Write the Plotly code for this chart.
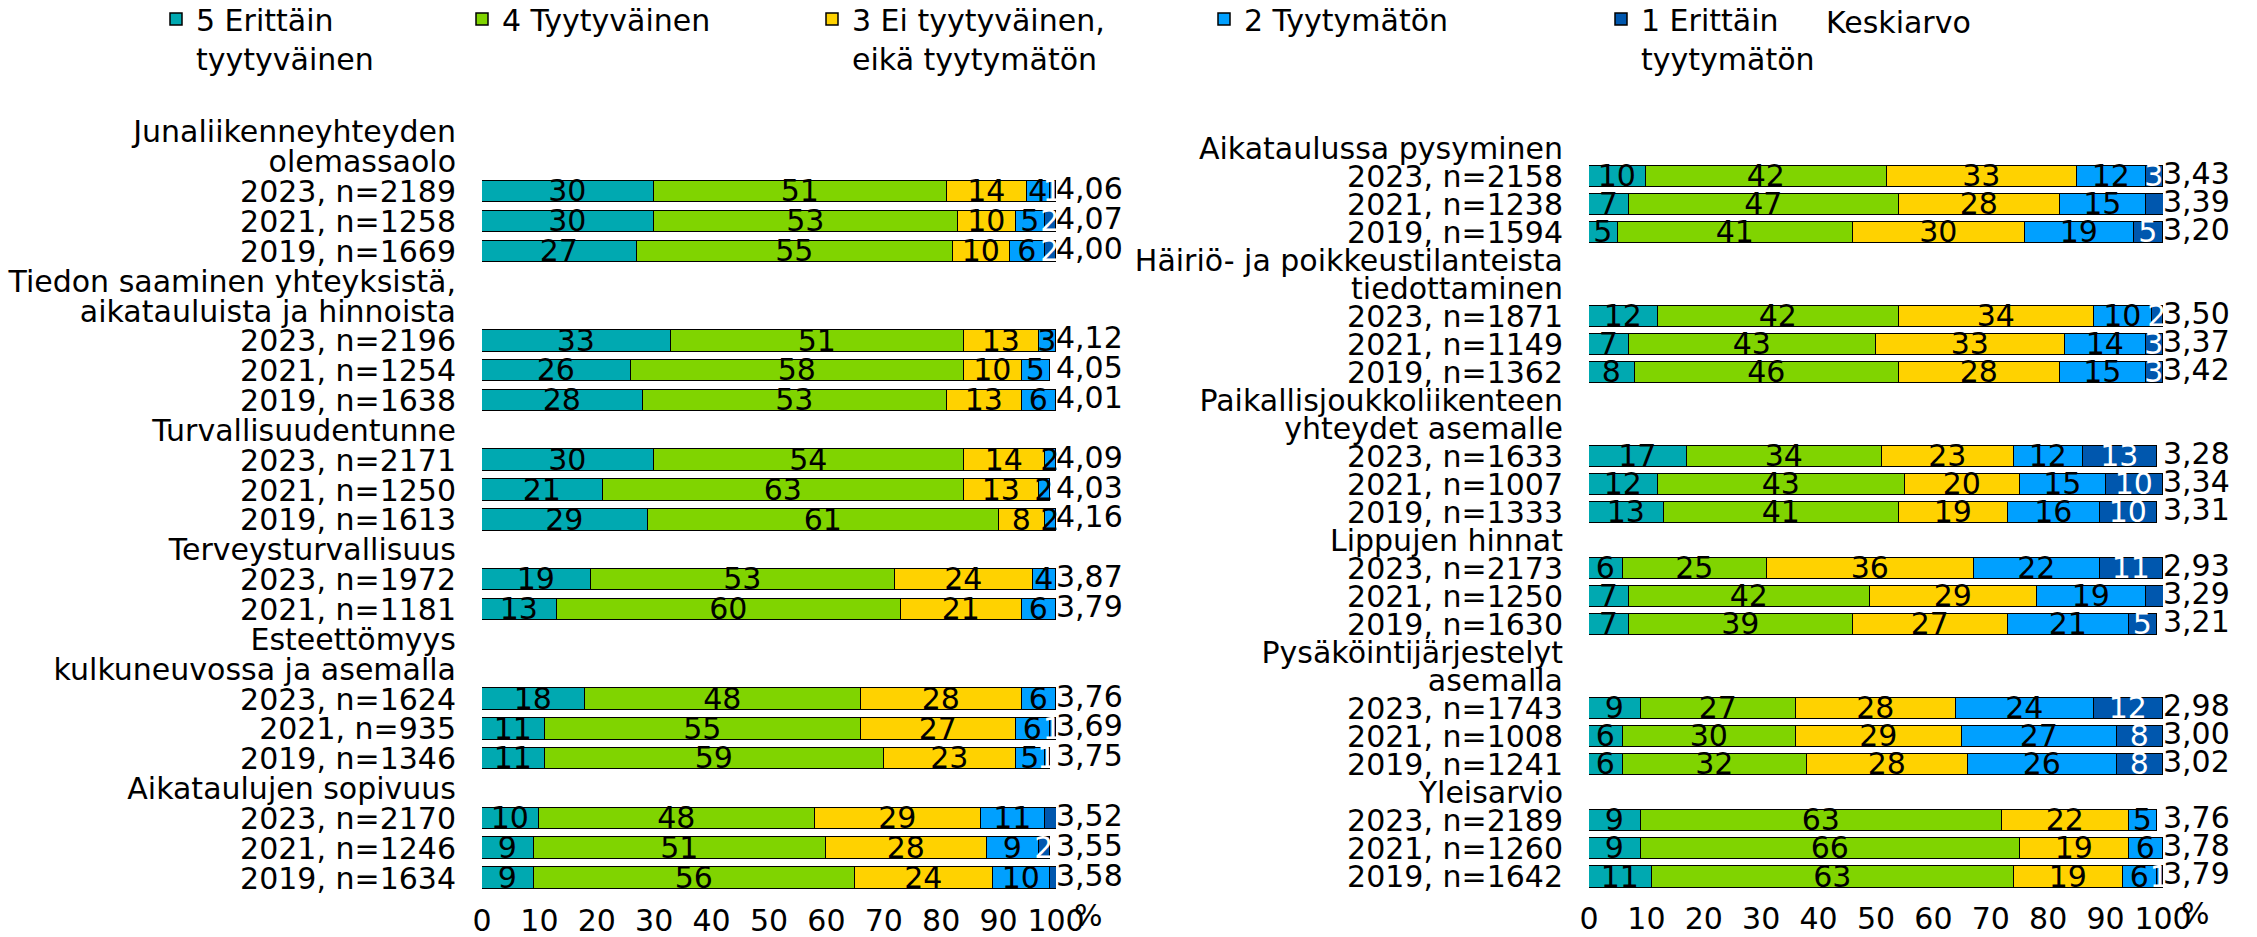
import plotly.graph_objects as go

FONT = "DejaVu Sans"
FS = 30
W, H = 2257, 937

# Response categories (5 = most satisfied ... 1 = least satisfied)
SERIES_NAMES = ["5 Erittäin<br>tyytyväinen", "4 Tyytyväinen", "3 Ei tyytyväinen,<br>eikä tyytymätön",
                "2 Tyytymätön", "1 Erittäin<br>tyytymätön"]
SERIES_COLORS = ["#00A9B1", "#80D400", "#FFD200", "#00A0FF", "#0057AE"]
TEXT_COLORS = ["black", "black", "black", "black", "white"]

# Left panel
L_TOPICS = ["Junaliikenneyhteyden\nolemassaolo",
            "Tiedon saaminen yhteyksistä,\naikatauluista ja hinnoista",
            "Turvallisuudentunne",
            "Terveysturvallisuus",
            "Esteettömyys\nkulkuneuvossa ja asemalla",
            "Aikataulujen sopivuus"]
L_ROWS = [["2023, n=2189", "2021, n=1258", "2019, n=1669"],
          ["2023, n=2196", "2021, n=1254", "2019, n=1638"],
          ["2023, n=2171", "2021, n=1250", "2019, n=1613"],
          ["2023, n=1972", "2021, n=1181"],
          ["2023, n=1624", "2021, n=935", "2019, n=1346"],
          ["2023, n=2170", "2021, n=1246", "2019, n=1634"]]
L_V5 = [30, 30, 27, 33, 26, 28, 30, 21, 29, 19, 13, 18, 11, 11, 10, 9, 9]
L_V4 = [51, 53, 55, 51, 58, 53, 54, 63, 61, 53, 60, 48, 55, 59, 48, 51, 56]
L_V3 = [14, 10, 10, 13, 10, 13, 14, 13, 8, 24, 21, 28, 27, 23, 29, 28, 24]
L_V2 = [4, 5, 6, 3, 5, 6, 2, 2, 2, 4, 6, 6, 6, 5, 11, 9, 10]
L_V1 = [1, 2, 2, 1, 0, 1, 0, 0, 0, 0, 1, 1, 1, 1, 3, 2, 2]
L_MEAN = [4.06, 4.07, 4.00, 4.12, 4.05, 4.01, 4.09, 4.03, 4.16, 3.87, 3.79,
          3.76, 3.69, 3.75, 3.52, 3.55, 3.58]

# Right panel
R_TOPICS = ["Aikataulussa pysyminen",
            "Häiriö- ja poikkeustilanteista\ntiedottaminen",
            "Paikallisjoukkoliikenteen\nyhteydet asemalle",
            "Lippujen hinnat",
            "Pysäköintijärjestelyt\nasemalla",
            "Yleisarvio"]
R_ROWS = [["2023, n=2158", "2021, n=1238", "2019, n=1594"],
          ["2023, n=1871", "2021, n=1149", "2019, n=1362"],
          ["2023, n=1633", "2021, n=1007", "2019, n=1333"],
          ["2023, n=2173", "2021, n=1250", "2019, n=1630"],
          ["2023, n=1743", "2021, n=1008", "2019, n=1241"],
          ["2023, n=2189", "2021, n=1260", "2019, n=1642"]]
R_V5 = [10, 7, 5, 12, 7, 8, 17, 12, 13, 6, 7, 7, 9, 6, 6, 9, 9, 11]
R_V4 = [42, 47, 41, 42, 43, 46, 34, 43, 41, 25, 42, 39, 27, 30, 32, 63, 66, 63]
R_V3 = [33, 28, 30, 34, 33, 28, 23, 20, 19, 36, 29, 27, 28, 29, 28, 22, 19, 19]
R_V2 = [12, 15, 19, 10, 14, 15, 12, 15, 16, 22, 19, 21, 24, 27, 26, 5, 6, 6]
R_V1 = [3, 4, 5, 2, 3, 3, 13, 10, 10, 11, 4, 5, 12, 8, 8, 0, 0, 1]
R_MEAN = [3.43, 3.39, 3.20, 3.50, 3.37, 3.42, 3.28, 3.34, 3.31, 2.93, 3.29, 3.21,
          2.98, 3.00, 3.02, 3.76, 3.78, 3.79]

X_TICKS = [0, 10, 20, 30, 40, 50, 60, 70, 80, 90, 100]


def build_slots(topics, rows):
    """One label slot per header line and per bar row."""
    labels, bar_pos = [], []
    for topic, rr in zip(topics, rows):
        for line in topic.split("\n"):
            labels.append(line)
        for lab in rr:
            bar_pos.append(len(labels))
            labels.append(lab)
    return labels, bar_pos


def fmt(v):
    return f"{v:.2f}".replace(".", ",")


fig = go.Figure()

panels = [
    dict(topics=L_TOPICS, rows=L_ROWS, vals=[L_V5, L_V4, L_V3, L_V2, L_V1], mean=L_MEAN,
         xa="x", ya="y", width=0.72, legend=True),
    dict(topics=R_TOPICS, rows=R_ROWS, vals=[R_V5, R_V4, R_V3, R_V2, R_V1], mean=R_MEAN,
         xa="x2", ya="y2", width=0.75, legend=False),
]

slot_info = []
for p in panels:
    labels, pos = build_slots(p["topics"], p["rows"])
    slot_info.append((labels, pos))
    for i, (vals, name, col, tcol) in enumerate(zip(p["vals"], SERIES_NAMES, SERIES_COLORS, TEXT_COLORS)):
        fig.add_trace(go.Bar(
            x=vals, y=pos, orientation="h", name=name,
            width=p["width"],
            marker=dict(color=col, line=dict(color="black", width=1.5)),
            text=[str(v) for v in vals], textposition="inside", insidetextanchor="middle",
            textangle=0, textfont=dict(family=FONT, size=FS, color=tcol),
            cliponaxis=False,
            xaxis=p["xa"], yaxis=p["ya"],
            showlegend=p["legend"],
            legend="legend" if i == 0 else f"legend{i + 1}",
            hoverinfo="skip",
        ))
    fig.add_trace(go.Scatter(
        x=[100] * len(pos), y=pos, mode="text", text=[fmt(v) for v in p["mean"]],
        textposition="middle right", textfont=dict(family=FONT, size=FS, color="black"),
        cliponaxis=False, showlegend=False, hoverinfo="skip",
        xaxis=p["xa"], yaxis=p["ya"],
    ))

# Plot areas in page pixels
L_DOM_X = [482 / W, 1056 / W]
R_DOM_X = [1589 / W, 2163 / W]
L_DOM_Y = [1 - 893 / H, 1 - 117 / H]
R_DOM_Y = [1 - 891 / H, 1 - 134 / H]

axis_font = dict(family=FONT, size=FS, color="black")


def xaxis(domain, anchor):
    return dict(domain=domain, anchor=anchor, range=[0, 100], tickvals=X_TICKS,
                ticktext=[str(t) for t in X_TICKS], showgrid=False, zeroline=False,
                showline=False, ticks="", tickfont=axis_font, ticklabelstandoff=7,
                fixedrange=True)


def yaxis(domain, anchor, labels):
    n = len(labels)
    return dict(domain=domain, anchor=anchor, range=[n - 0.5, -0.5],
                tickvals=list(range(n)), ticktext=labels, showgrid=False, zeroline=False,
                showline=False, ticks="", tickfont=axis_font, ticklabelstandoff=25,
                fixedrange=True)


legend_text_x = [196, 502, 852, 1244, 1641]
legends = {}
for i, tx in enumerate(legend_text_x):
    key = "legend" if i == 0 else f"legend{i + 1}"
    legends[key] = dict(x=(tx - 40) / W, y=1 + 7 / H, xanchor="left", yanchor="top",
                        orientation="h", valign="top", bgcolor="rgba(0,0,0,0)",
                        font=dict(family=FONT, size=FS, color="black"),
                        itemclick=False, itemdoubleclick=False)

fig.update_layout(
    width=W, height=H, margin=dict(l=0, r=0, t=0, b=0, autoexpand=False),
    paper_bgcolor="white", plot_bgcolor="white",
    barmode="stack", bargap=0,
    font=dict(family=FONT, size=FS, color="black"),
    uniformtext=dict(minsize=FS, mode="show"),
    xaxis=xaxis(L_DOM_X, "y"),
    yaxis=yaxis(L_DOM_Y, "x", slot_info[0][0]),
    xaxis2=xaxis(R_DOM_X, "y2"),
    yaxis2=yaxis(R_DOM_Y, "x2", slot_info[1][0]),
    **legends,
)

fig.add_annotation(text="Keskiarvo", xref="paper", yref="paper", x=1824 / W, y=1 - 23 / H,
                   xanchor="left", yanchor="middle", showarrow=False,
                   font=dict(family=FONT, size=FS, color="black"))
for xa, ya in (("x", "y"), ("x2", "y2")):
    fig.add_annotation(text="%", xref=f"{xa} domain", yref=f"{ya} domain", x=1, y=0,
                       xanchor="center", yanchor="middle", xshift=32, yshift=-22,
                       showarrow=False, font=dict(family=FONT, size=FS, color="black"))

fig.write_html("out.html")
